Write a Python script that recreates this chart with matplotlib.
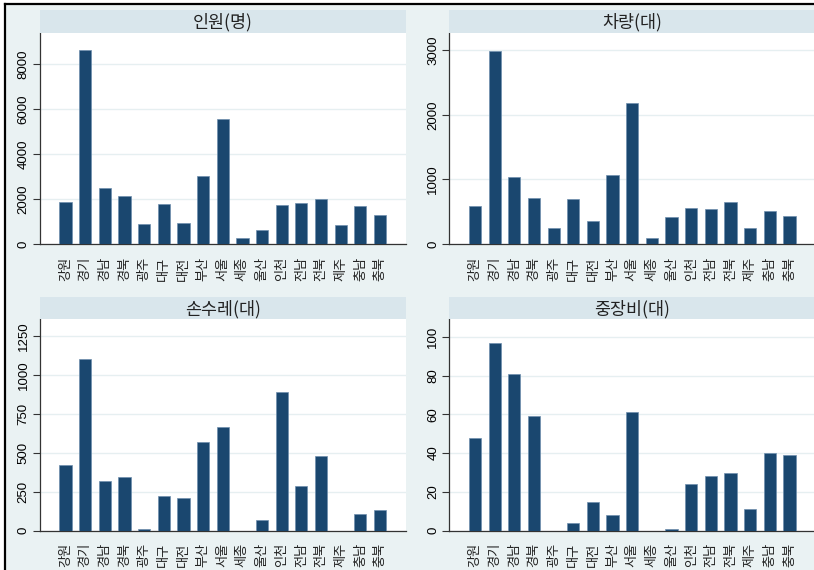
import numpy as np
import matplotlib
matplotlib.use('Agg')
import matplotlib.pyplot as plt
from matplotlib.patches import Rectangle

plt.rcParams['font.family'] = ['Noto Sans CJK KR', 'DejaVu Sans']

# 시도별 피해 현황
regions = ['강원', '경기', '경남', '경북', '광주', '대구', '대전', '부산', '서울',
           '세종', '울산', '인천', '전남', '전북', '제주', '충남', '충북']
people = [1850, 8620, 2500, 2120, 890, 1790, 930, 3010, 5540,
          250, 640, 1750, 1820, 1990, 840, 1670, 1270]
vehicles = [583, 2990, 1033, 707, 243, 692, 351, 1069, 2179,
            93, 413, 552, 547, 656, 253, 506, 434]
carts = [424, 1106, 317, 347, 11, 223, 212, 568, 665,
         0, 66, 890, 287, 478, 0, 105, 135]
machines = [48, 97, 81, 59, 0, 4, 15, 8, 61,
            0, 1, 24, 28, 30, 11, 40, 39]

titles = ['인원(명)', '차량(대)', '손수레(대)', '중장비(대)']
yticks = [np.arange(0, 8001, 2000), np.arange(0, 3001, 1000),
          np.arange(0, 1251, 250), np.arange(0, 101, 20)]
ytops = [9378, 3268, 1359, 109]

W, H = 814, 570
BG = '#eaf2f3'
STRIP = '#d9e6ec'
NAVY = '#1a476f'

fig = plt.figure(figsize=(W / 100, H / 100), dpi=100)
fig.patch.set_facecolor('white')

# outer graph region (left/top edges framed)
fig.patches.append(Rectangle((5 / W, 0), 1.0, 1 - 4 / H, transform=fig.transFigure,
                             facecolor=BG, edgecolor='none', zorder=-10))
fig.add_artist(plt.Line2D([5 / W, 5 / W], [0, 1 - 4 / H], color='black', lw=1.6,
                          transform=fig.transFigure, zorder=-5))
fig.add_artist(plt.Line2D([5 / W, 1], [1 - 4 / H, 1 - 4 / H], color='black', lw=1.6,
                          transform=fig.transFigure, zorder=-5))

# panel boxes in pixels: left, right, top, bottom, strip top
boxes = [(39.5, 406, 33, 244, 10), (449, 815.5, 33, 244, 10),
         (39.5, 406, 319.3, 530.7, 296.7), (449, 815.5, 319.3, 530.7, 296.7)]
series = [people, vehicles, carts, machines]

x = np.arange(len(regions))
for (l, r, t, b, st), vals, title, yt, ytop in zip(boxes, series, titles, yticks, ytops):
    ax = fig.add_axes([l / W, 1 - b / H, (r - l) / W, (b - t) / H])
    ax.set_facecolor('white')
    ax.bar(x, vals, width=0.62, color=NAVY, edgecolor='#6f8fae', linewidth=0.5, zorder=3)
    ax.set_xlim(-1.32, len(regions) - 1 + 1.32)
    ax.set_ylim(0, ytop)
    ax.set_yticks(yt)
    ax.set_yticklabels([str(v) for v in yt], rotation=90, va='center',
                       fontsize=9.5, family=['Liberation Sans', 'DejaVu Sans'])
    ax.yaxis.grid(True, color='#e6eff1', lw=1.0, zorder=0)
    ax.set_xticks(x)
    ax.set_xticklabels(regions, rotation=90, fontsize=9.5, color='#222222')
    ax.tick_params(axis='x', length=0, pad=9)
    ax.tick_params(axis='y', length=5, width=0.8, color='#333333', pad=2)
    for s in ['top', 'right']:
        ax.spines[s].set_visible(False)
    for s in ['left', 'bottom']:
        ax.spines[s].set_color('#333333')
        ax.spines[s].set_linewidth(0.9)

    # panel title strip
    sax = fig.add_axes([l / W, 1 - t / H, (r - l) / W, (t - st) / H])
    sax.set_facecolor(STRIP)
    sax.set_xticks([])
    sax.set_yticks([])
    for s in sax.spines.values():
        s.set_visible(False)
    sax.text(0.5, 0.45, title, ha='center', va='center', fontsize=12.5,
             color='#222222', transform=sax.transAxes)

fig.savefig('out.png', dpi=100)
